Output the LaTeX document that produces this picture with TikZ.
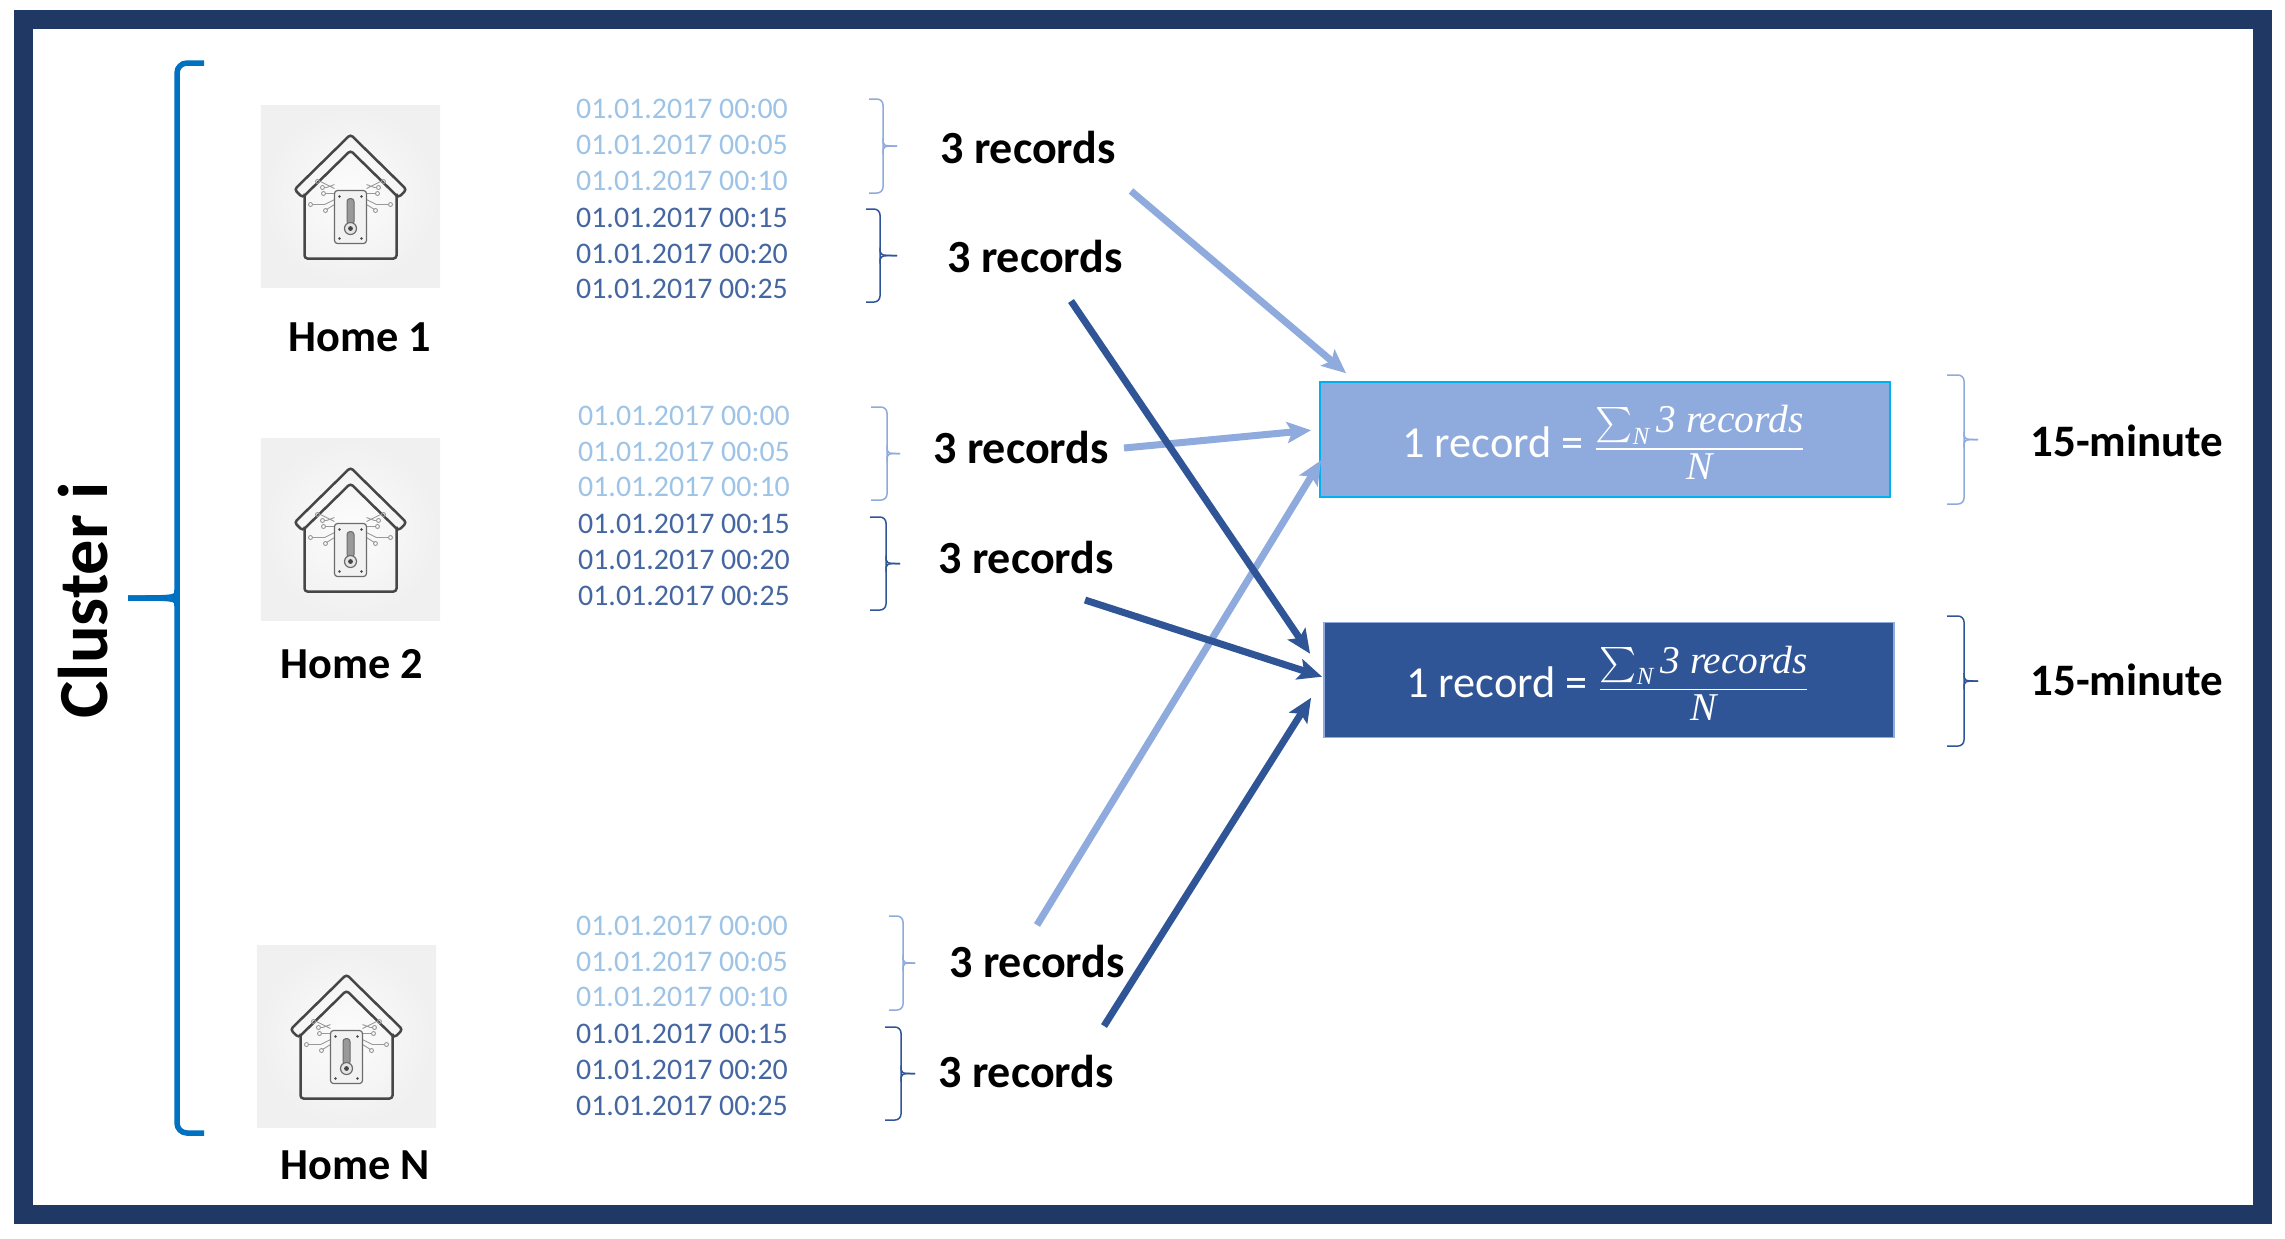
\documentclass[tikz,border=0pt]{standalone}
\usepackage{xcolor}
\usepackage{fontspec}
\setmainfont{Carlito}
\newfontfamily\recordsfont{Liberation Serif}
\usepackage{tikz}
\usetikzlibrary{arrows.meta,positioning,calc}

\definecolor{framenavy}{RGB}{31,56,100}
\definecolor{clusterblue}{RGB}{0,112,192}
\definecolor{lightblue}{RGB}{143,170,220}
\definecolor{darkblue}{RGB}{47,85,151}
\definecolor{paleblue}{RGB}{157,195,230}
\definecolor{boxcyan}{RGB}{0,176,240}
\definecolor{icongray}{RGB}{70,70,70}

\newcommand{\timebrace}[6]{%
  \pgfmathsetmacro{\bracemid}{(#5+#6)/2}
  \draw[#1] (#2,#5) -- (#3,#5) -- (#3,#6) -- (#2,#6);
  \draw[#1,rounded corners=0pt] (#3,\bracemid-8) .. controls (#3,\bracemid) .. (#4,\bracemid);
  \draw[#1,rounded corners=0pt] (#3,\bracemid+8) .. controls (#3,\bracemid) .. (#4,\bracemid);
}
\newcommand{\recordword}[1]{\mbox{\fontsize{11.2}{12}\selectfont\recordsfont\itshape #1}}
\newcommand{\recordformula}{1 record = \hspace{-0.6pt}{\fontsize{9.4}{12}\selectfont$\displaystyle\frac{\sum_{\mbox{\recordsfont\itshape\scriptsize N}} \recordword{3 records}}{\recordword{N}}$}}

\tikzset{
  thermohouse/.pic={
    % roof and walls
    \draw[icongray, line width=0.025cm, rounded corners=0.03cm] (0,-62) -- (-56,-7) -- (-48,1) -- (0,-46) -- (48,1) -- (56,-7) -- cycle;
    \draw[icongray, line width=0.025cm, rounded corners=0.03cm] (-46,-3) -- (-46,62) -- (46,62) -- (46,-3);
    % circuit traces
    \draw[gray!80, line width=0.009cm] (-16,-12) -- (-24,-9) -- (-26,-9) (-16,-8) -- (-30,-15) (-16,-3) -- (-25,-3) (-16,3) -- (-26,8) -- (-38,8) (-16,8) -- (-24,13);
    \draw[gray!80, line width=0.009cm] (16,-12) -- (24,-9) -- (26,-9) (16,-8) -- (30,-15) (16,-3) -- (25,-3) (16,3) -- (26,8) -- (38,8) (16,8) -- (24,13);
    \draw[gray!80, line width=0.009cm] (-28,-9) circle (2) (-33,-15) circle (2) (-27,-3) circle (2) (-40,8) circle (2) (-25,14) circle (2);
    \draw[gray!80, line width=0.009cm] (28,-9) circle (2) (33,-15) circle (2) (27,-3) circle (2) (40,8) circle (2) (25,14) circle (2);
    % sensor plate
    \draw[icongray!80, line width=0.012cm, rounded corners=0.03cm, fill=white!95!black] (-16,-6) rectangle (16,47);
    \fill[icongray] (-11,0) circle (1.4) (11,0) circle (1.4) (-11,42) circle (1.4) (11,42) circle (1.4);
    % thermometer
    \draw[icongray!80, line width=0.01cm, fill=gray!80, rounded corners=0.03cm] (-3.5,2) rectangle (3.5,28);
    \draw[icongray!80, line width=0.012cm, fill=white!90!black] (0,32) circle (6);
    \fill[icongray] (0,32) circle (2.4);
  }
}

\begin{document}
\begin{tikzpicture}[
    x=0.01cm, y=-0.01cm,
    homebox/.style={rectangle, minimum width=1.79cm, minimum height=1.81cm, inner sep=0pt, inner color=white!99!black, outer color=white!94!black},
    homelabel/.style={inner sep=0pt, minimum height=0.4cm, font=\fontsize{12.6}{14}\selectfont\bfseries},
    datelight/.style={inner sep=0pt, minimum height=1.07cm, align=center, text=paleblue, font=\fontsize{8.5}{10.15}\selectfont},
    datedark/.style={datelight, text=darkblue!90!white},
    records/.style={inner sep=0pt, font=\fontsize{13.1}{14}\selectfont\bfseries},
    minutes/.style={inner sep=0pt, font=\fontsize{12.8}{14}\selectfont\bfseries},
    resultlight/.style={rectangle, draw=boxcyan, line width=0.015cm, fill=lightblue, minimum width=5.7cm, minimum height=1.15cm, inner sep=0pt, text height=0.55cm, text depth=0.2cm, text=white, font=\fontsize{12.6}{14}\selectfont},
    resultdark/.style={resultlight, draw=lightblue, fill=darkblue},
    bracelight/.style={lightblue, line width=0.015cm, rounded corners=0.06cm},
    bracedark/.style={darkblue, line width=0.015cm, rounded corners=0.06cm},
    flowlight/.style={-{Stealth[length=0.24cm,width=0.21cm,inset=0.05cm]}, lightblue, line width=0.07cm},
    flowdark/.style={flowlight, darkblue}
]
\useasboundingbox (0,0) rectangle (2285,1238);

% Frame
\draw[framenavy, line width=0.185cm] (23.5,19.5) rectangle (2262.5,1214.5);

% Cluster
\node[rotate=90, anchor=base, inner sep=0pt, font=\fontsize{20}{22}\selectfont\bfseries] (cluster) at (107,600) {Cluster i};
\timebrace{clusterblue, line width=0.055cm, rounded corners=0.1cm}{204}{177}{128}{63}{1133}

% Homes
\node[homebox] (home1) at (350.5,196.5) {};
\pic at (home1) {thermohouse};
\node[homelabel, below=0.285cm of home1, xshift=0.09cm] (label1) {Home 1};

\node[homebox] (home2) at (350.5,529.5) {};
\pic at (home2) {thermohouse};
\node[homelabel, below=0.225cm of home2, xshift=0.015cm] (label2) {Home 2};

\node[homebox] (homeN) at (346.5,1036.5) {};
\pic at (homeN) {thermohouse};
\node[homelabel, below=0.17cm of homeN, xshift=0.085cm] (labelN) {Home N};

% Home 1 records
\node[datelight] (dates1a) at (682,145) {01.01.2017 00:00\\01.01.2017 00:05\\01.01.2017 00:10};
\node[datedark, below=0cm of dates1a] (dates1b) {01.01.2017 00:15\\01.01.2017 00:20\\01.01.2017 00:25};
\timebrace{bracelight}{869}{883}{897}{99}{193}
\timebrace{bracedark}{866}{880}{897}{209}{302}
\node[records] (rec1a) at (1028,147) {3 records};
\node[records] (rec1b) at (1035,256) {3 records};

% Home 2 records
\node[datelight] (dates2a) at (684,451.5) {01.01.2017 00:00\\01.01.2017 00:05\\01.01.2017 00:10};
\node[datedark, below=0cm of dates2a] (dates2b) {01.01.2017 00:15\\01.01.2017 00:20\\01.01.2017 00:25};
\timebrace{bracelight}{871}{887}{900}{407}{500}
\timebrace{bracedark}{870}{886}{900}{517}{610}
\node[records] (rec2a) at (1021,447) {3 records};
\node[records] (rec2b) at (1026,557) {3 records};

% Home N records
\node[datelight] (datesNa) at (682,961.5) {01.01.2017 00:00\\01.01.2017 00:05\\01.01.2017 00:10};
\node[datedark, below=0cm of datesNa] (datesNb) {01.01.2017 00:15\\01.01.2017 00:20\\01.01.2017 00:25};
\timebrace{bracelight}{889}{903}{915}{916}{1010}
\timebrace{bracedark}{885}{901}{915}{1027}{1120}
\node[records] (recNa) at (1037,961) {3 records};
\node[records] (recNb) at (1026,1071) {3 records};

% Results
\node[resultlight] (result1) at (1605,439.5) {\recordformula};
\node[resultdark] (result2) at (1609,680) {\recordformula};
\timebrace{bracelight}{1947}{1964}{1978}{375}{504}
\timebrace{bracedark}{1947}{1964}{1978}{616}{746}
\node[minutes] (minute1) at (2127,441) {15-minute};
\node[minutes] (minute2) at (2127,680) {15-minute};

% Arrows
\draw[flowlight] ([shift={(103,44)}]rec1a.center) -- ([shift={(27,-8)}]result1.north west);
\draw[flowlight] ([shift={(103,1)}]rec2a.center) -- ([shift={(-8,49)}]result1.north west);
\draw[flowlight] ([shift={(0,-36)}]recNa.center) -- ([shift={(2,79)}]result1.north west);
\draw[flowdark] ([shift={(36,45)}]rec1b.center) -- ([shift={(-13,32)}]result2.north west);
\draw[flowdark] ([shift={(59,43)}]rec2b.center) -- ([shift={(-1,55)}]result2.north west);
\draw[flowdark] ([shift={(78,-45)}]recNb.center) -- ([shift={(-12,76)}]result2.north west);

\end{tikzpicture}
\end{document}
